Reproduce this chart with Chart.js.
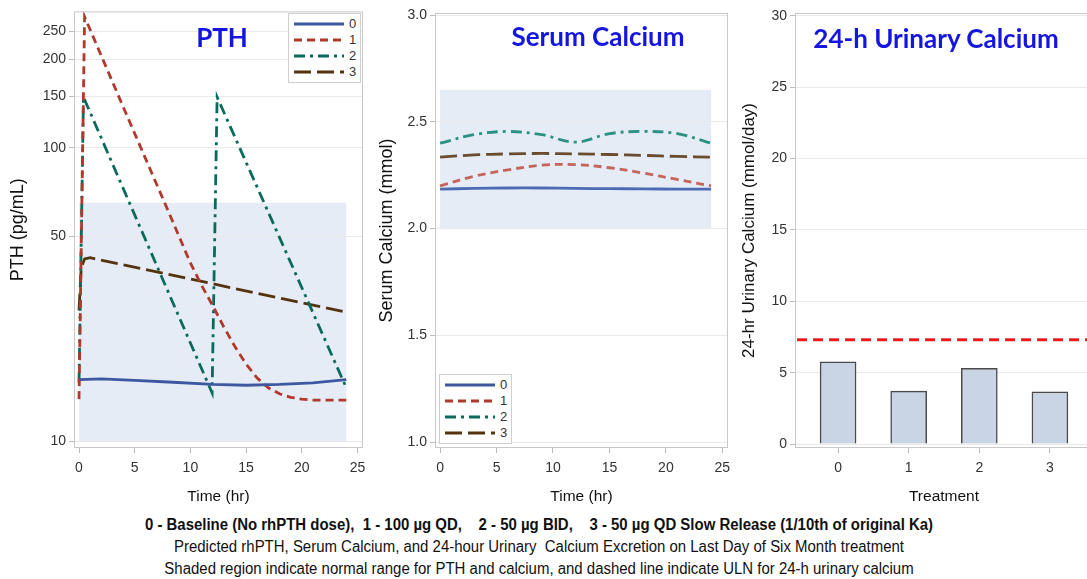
<!DOCTYPE html>
<html lang="en">
<head>
    <meta charset="UTF-8">
    <title>rhPTH - PTH, Serum Calcium, 24-h Urinary Calcium</title>
    <script src="https://cdn.jsdelivr.net/npm/chart.js"></script>
    <style>
        body { margin: 0; width: 1087px; height: 579px; overflow: hidden; background: #fff; position: relative;
               font-family: "Liberation Sans", Arial, sans-serif; }
        .panel { position: absolute; top: 0; height: 510px; }
        .ttl { position: absolute; font-family: Lato, "Open Sans", sans-serif; font-weight: bold; font-size: 26px;
               color: #1515e0; transform: translate(-50%, -50%); white-space: nowrap; }
        .lgd { position: absolute; border: 1px solid #cfcfcf; background: #fff; padding: 2px 4px; font-size: 13px; color: #333; }
        .lgd div { height: 16px; line-height: 16px; display: flex; align-items: center; }
        .lgd svg { margin-right: 4px; }
        .cap { position: absolute; left: 0; width: 1078px; text-align: center; color: #111; white-space: nowrap;
               font-family: "Liberation Sans", Arial, sans-serif; font-size: 16px; line-height: 18px;
               transform: scaleX(0.935); transform-origin: 539px 0; }
    </style>
</head>
<body>
    <div class="panel" style="left:0;width:370px"><canvas id="pth"></canvas></div>
    <div class="panel" style="left:370px;width:365px"><canvas id="serum"></canvas></div>
    <div class="panel" style="left:730px;width:370px"><canvas id="urine"></canvas></div>

    <div class="ttl" style="left:222px;top:37px">PTH</div>
    <div class="ttl" style="left:598px;top:36px">Serum Calcium</div>
    <div class="ttl" style="left:936px;top:38px">24-h Urinary Calcium</div>

    <div class="lgd" id="lgdPth" style="left:288px;top:13px"></div>
    <div class="lgd" id="lgdSerum" style="left:439px;top:374px"></div>

    <div class="cap" style="top:516px;font-weight:bold">0 - Baseline (No rhPTH dose),&nbsp; 1 - 100 µg QD,&nbsp;&nbsp;&nbsp; 2 - 50 µg BID,&nbsp;&nbsp;&nbsp; 3 - 50 µg QD Slow Release (1/10th of original Ka)</div>
    <div class="cap" style="top:538px">Predicted rhPTH, Serum Calcium, and 24-hour Urinary&nbsp; Calcium Excretion on Last Day of Six Month treatment</div>
    <div class="cap" style="top:560px">Shaded region indicate normal range for PTH and calcium, and dashed line indicate ULN for 24-h urinary calcium</div>

<script>
// ---------------- data ----------------
const groups = ['0', '1', '2', '3'];

// PTH (pg/mL) vs time (hr), log axis
const pthTime0 = [0, 2, 5, 8, 12, 15, 18, 21, 24];
const pthVal0  = [16.2, 16.3, 16.1, 15.9, 15.6, 15.5, 15.6, 15.8, 16.2];
const pthTime1 = [0, 0.5, 4, 8, 10, 11, 12, 13, 14, 15, 16, 17, 18, 19, 20, 21, 22, 24];
const pthVal1  = [13.9, 280, 137, 61, 40.5, 34, 29, 24.5, 21, 18.3, 16.4, 15.2, 14.5, 14.1, 13.9, 13.8, 13.8, 13.8];
const pthTime2 = [0, 0.4, 11.95, 12.4, 24];
const pthVal2  = [15.8, 149, 14.6, 149, 15.2];
const pthTime3 = [0, 0.2, 0.5, 1, 24];
const pthVal3  = [27.9, 39, 41.8, 42.2, 27.5];
const pthTicks = [10, 50, 100, 150, 200, 250];
const pthNormal = [10, 65];

// serum calcium (mmol) vs time (hr)
const caTime = [0, 3, 6, 9, 12, 15, 18, 21, 24];
const caVal0 = [2.185, 2.188, 2.19, 2.19, 2.188, 2.187, 2.186, 2.185, 2.185];
const caVal1 = [2.20, 2.245, 2.275, 2.297, 2.30, 2.285, 2.26, 2.23, 2.20];
const caVal2 = [2.40, 2.44, 2.455, 2.44, 2.405, 2.445, 2.455, 2.445, 2.40];
const caVal3 = [2.335, 2.345, 2.35, 2.352, 2.35, 2.347, 2.343, 2.338, 2.335];
const caTicks = [1.0, 1.5, 2.0, 2.5, 3.0];
const caNormal = [2.0, 2.65];

// 24-h urinary calcium (mmol/day) by treatment
const treatment = [0, 1, 2, 3];
const urineVal  = [5.75, 3.7, 5.3, 3.65];
const urineTicks = [0, 5, 10, 15, 20, 25, 30];
const urineULN = 7.3;

const timeTicks = [0, 5, 10, 15, 20, 25];
const bandTime = [0, 24];

// ---------------- styles ----------------
const colors  = ['#3d58a0', '#b0392c', '#0a6a5d', '#55330f'];
const colorsCa = ['#4d6bb2', '#c4645a', '#2a9282', '#6a4b2d'];
const dashes  = [[], [8, 5], [11, 5, 3, 5], [17, 6]];

function pts(xs, ys){
    return xs.map((x, i) => ({x: x, y: ys[i]}));
}

// shaded normal range, ULN line and the plot frame
const decor = {
    id: 'decor',
    beforeDraw(chart, args, o){
        if(!o.band) return;
        const {ctx, scales: {x, y}} = chart;
        const x0 = x.getPixelForValue(o.band.x[0]), x1 = x.getPixelForValue(o.band.x[1]);
        const y0 = y.getPixelForValue(o.band.y[0]), y1 = y.getPixelForValue(o.band.y[1]);
        ctx.save();
        ctx.fillStyle = '#e6ecf6';
        ctx.fillRect(x0, y1, x1 - x0, y0 - y1);
        ctx.restore();
    },
    afterDatasetsDraw(chart, args, o){
        const {ctx, chartArea: a, scales: {y}} = chart;
        ctx.save();
        if(o.uln !== undefined){
            const py = y.getPixelForValue(o.uln);
            ctx.strokeStyle = '#ee1d1d';
            ctx.lineWidth = 3;
            ctx.setLineDash([10, 6]);
            ctx.beginPath();
            ctx.moveTo(a.left + 2, py);
            ctx.lineTo(a.right, py);
            ctx.stroke();
            ctx.setLineDash([]);
        }
        ctx.strokeStyle = '#c8c8c8';
        ctx.lineWidth = 1;
        ctx.strokeRect(a.left + 0.5, a.top + 0.5, a.right - a.left - 1, a.bottom - a.top - 1);
        ctx.restore();
    }
};

const tickFont = {family: '"Liberation Sans", Arial, sans-serif', size: 14};
const xTitleFont = {family: '"Liberation Sans", Arial, sans-serif', size: 15.5};

// x axes keep a fixed height and do not push the plot in for their end labels
function fitX(s){
    s.height = 62;
    s.paddingLeft = 0;
    s.paddingRight = 0;
}

function xTimeScale(){
    return {
        type: 'linear', min: -0.45, max: 25.5,
        afterBuildTicks: s => { s.ticks = timeTicks.map(v => ({value: v})); },
        afterFit: fitX,
        ticks: {font: tickFont, color: '#333', padding: 7, callback: v => v},
        grid: {drawOnChartArea: false, tickLength: 5, color: '#bbb'},
        border: {display: false},
        title: {display: true, text: 'Time (hr)', font: xTitleFont, color: '#111', padding: {top: 4, bottom: 4}}
    };
}

function yScale(extra, ticks, width, label, size, pad, fmt){
    return Object.assign({
        afterBuildTicks: s => { s.ticks = ticks.map(v => ({value: v})); },
        afterFit: s => { s.width = width; },
        ticks: {font: tickFont, color: '#333', padding: 3, callback: fmt},
        grid: {color: '#e9e9e9', tickColor: '#bbb', tickLength: 5},
        border: {display: false},
        title: {display: true, text: label, color: '#111', padding: {top: pad, bottom: 0},
                font: {family: '"Liberation Sans", Arial, sans-serif', size: size}}
    }, extra);
}

function lineSets(series, cols, tension){
    return series.map((d, i) => ({
        label: groups[i], data: d,
        borderColor: cols[i], borderDash: dashes[i], borderWidth: 2.8,
        pointRadius: 0, tension: tension, fill: false
    }));
}

const common = {
    responsive: false, animation: false,
    plugins: {legend: {display: false}, tooltip: {enabled: false}}
};

// ---------------- PTH ----------------
const cPth = document.getElementById('pth');
cPth.width = 370; cPth.height = 510;
new Chart(cPth, {
    type: 'line',
    data: {datasets: lineSets([pts(pthTime0, pthVal0), pts(pthTime1, pthVal1), pts(pthTime2, pthVal2), pts(pthTime3, pthVal3)], colors, 0)},
    options: Object.assign({}, common, {
        layout: {padding: {top: 8, right: 7}},
        plugins: {legend: {display: false}, tooltip: {enabled: false},
                  decor: {band: {x: bandTime, y: pthNormal}}},
        scales: {
            x: xTimeScale(),
            y: yScale({type: 'logarithmic', min: 9.47, max: 292}, pthTicks, 74, 'PTH (pg/mL)', 18, 7, v => v)
        }
    }),
    plugins: [decor]
});

// ---------------- Serum calcium ----------------
const cSerum = document.getElementById('serum');
cSerum.width = 365; cSerum.height = 510;
new Chart(cSerum, {
    type: 'line',
    data: {datasets: lineSets([pts(caTime, caVal0), pts(caTime, caVal1), pts(caTime, caVal2), pts(caTime, caVal3)], colorsCa, 0.35)},
    options: Object.assign({}, common, {
        layout: {padding: {top: 13, right: 7}},
        plugins: {legend: {display: false}, tooltip: {enabled: false},
                  decor: {band: {x: bandTime, y: caNormal}}},
        scales: {
            x: xTimeScale(),
            y: yScale({type: 'linear', min: 0.972, max: 3.01}, caTicks, 65, 'Serum Calcium (mmol)', 18, 6, v => v.toFixed(1))
        }
    }),
    plugins: [decor]
});

// ---------------- 24-h urinary calcium ----------------
const cUrine = document.getElementById('urine');
cUrine.width = 370; cUrine.height = 510;
new Chart(cUrine, {
    type: 'bar',
    data: {datasets: [{
        label: 'Urinary calcium',
        data: pts(treatment, urineVal),
        backgroundColor: '#c9d4e5', borderColor: '#4a4a4a', borderWidth: 1.5,
        barThickness: 36
    }]},
    options: Object.assign({}, common, {
        layout: {padding: {top: 13, right: 7}},
        plugins: {legend: {display: false}, tooltip: {enabled: false},
                  decor: {uln: urineULN}},
        scales: {
            x: {
                type: 'linear', min: -0.61, max: 3.61, offset: false,
                afterBuildTicks: s => { s.ticks = treatment.map(v => ({value: v})); },
                afterFit: fitX,
                ticks: {font: tickFont, color: '#333', padding: 7, callback: v => groups[v]},
                grid: {drawOnChartArea: false, offset: false, tickLength: 5, color: '#bbb'},
                border: {display: false},
                title: {display: true, text: 'Treatment', font: xTitleFont, color: '#111', padding: {top: 4, bottom: 4}}
            },
            y: yScale({type: 'linear', min: -0.28, max: 30.2}, urineTicks, 65, '24-hr Urinary Calcium (mmol/day)', 17, 9, v => v)
        }
    }),
    plugins: [decor]
});

// ---------------- legends ----------------
function fillLegend(id, cols){
    const box = document.getElementById(id);
    groups.forEach((g, i) => {
        const row = document.createElement('div');
        row.innerHTML = '<svg width="52" height="6"><line x1="1" y1="3" x2="51" y2="3" stroke="' + cols[i] +
            '" stroke-width="3" stroke-dasharray="' + (dashes[i].length ? dashes[i].join(',') : 'none') + '"/></svg>' + g;
        box.appendChild(row);
    });
}
fillLegend('lgdPth', colors);
fillLegend('lgdSerum', colors);
</script>
</body>
</html>
